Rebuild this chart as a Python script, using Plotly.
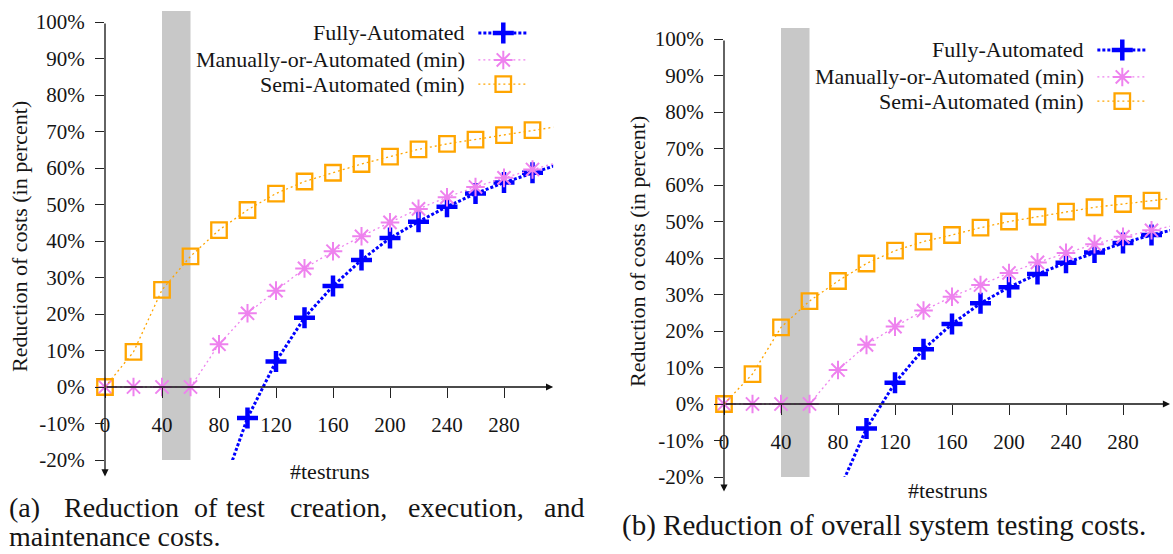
import plotly.graph_objects as go

# ---------------- data ----------------
testruns = [0, 20, 40, 60, 80, 100, 120, 140, 160, 180, 200, 220, 240, 260, 280, 300, 320]

# (a) reduction of test creation, execution and maintenance costs (percent)
fully_a = [None, None, None, None, -30.4, -8.5, 7.0, 19.0, 27.7, 34.8, 40.8, 45.3, 49.4, 53.0, 56.0, 58.7, 61.2]
manual_a = [0, 0, 0, 0, 11.7, 20.2, 26.4, 32.5, 37.2, 41.3, 45.1, 48.8, 52.0, 54.8, 57.3, 59.6, 61.8]
semi_a = [0, 9.6, 26.6, 35.8, 43.0, 48.5, 53.0, 56.3, 58.7, 61.1, 63.1, 65.1, 66.6, 67.8, 69.0, 70.4, 71.5]

# (b) reduction of overall system testing costs (percent)
fully_b = [None, None, None, None, -24.4, -6.7, 5.8, 15.0, 21.9, 27.6, 32.0, 35.6, 38.7, 41.5, 44.1, 46.3, 48.2]
manual_b = [0, 0, 0, 0, 9.3, 16.2, 21.2, 25.6, 29.4, 32.6, 35.9, 38.8, 41.4, 43.8, 45.8, 47.6, 49.3]
semi_b = [0, 8.2, 21.0, 28.2, 33.7, 38.5, 42.0, 44.5, 46.3, 48.3, 50.0, 51.3, 52.7, 53.9, 54.8, 55.7, 56.6]

series_names = ["Fully-Automated", "Manually-or-Automated (min)", "Semi-Automated (min)"]
x_tick_values = [0, 40, 80, 120, 160, 200, 240, 280]
x_tick_labels = ["0", "40", "80", "120", "160", "200", "240", "280"]
y_tick_values = [-20, -10, 0, 10, 20, 30, 40, 50, 60, 70, 80, 90, 100]
y_tick_labels = ["-20%", "-10%", "0%", "10%", "20%", "30%", "40%", "50%", "60%", "70%", "80%", "90%", "100%"]
band_range = [40, 60]
x_title = "#testruns"
y_title = "Reduction of costs (in percent)"
caption_a_line1 = ["(a)", "Reduction", "of", "test", "creation,", "execution,", "and"]
caption_a_line2 = "maintenance costs."
caption_b = "(b) Reduction of overall system testing costs."

# ---------------- layout constants ----------------
W, H = 1173, 554
FONT = "'Liberation Serif', 'Times New Roman', Times, 'DejaVu Serif', serif"
TXT = "#151515"
PX_X = 1.425   # pixels per test run
PX_Y = 3.65    # pixels per percent
Y_MIN, Y_MAX = -20, 103
LAST_MARKER_X = 300

styles = [
    dict(color="#0000FF", lw=3, dash="3px,2px", symbol="cross-thin", msize=15, mlw=4.5),
    dict(color="#EE82EE", lw=1.3, dash="2px,3px", symbol="asterisk", msize=15.5, mlw=2),
    dict(color="#FFA500", lw=1.3, dash="2px,3px", symbol="square-open", msize=15.5, mlw=2.3),
]

panels = [
    dict(xa="x", ya="y", x0px=105, y0px=387, xmax=314.5, yarrow=-24.5,
         series=[fully_a, manual_a, semi_a],
         ytitle=(20, 237), xtitle=(329, 471)),
    dict(xa="x2", ya="y2", x0px=724, y0px=404, xmax=313, yarrow=-24.0,
         series=[fully_b, manual_b, semi_b],
         ytitle=(637, 252), xtitle=(947, 490)),
]

legend_rows = [97, 89.6, 83]
legend_text_x = 254
legend_key = [262, 297]

fig = go.Figure()
annotations = []
shapes = []
layout_axes = {}

for i, p in enumerate(panels):
    xa, ya = p["xa"], p["ya"]
    suffix = "" if i == 0 else str(i + 1)
    xd = [p["x0px"] / W, (p["x0px"] + p["xmax"] * PX_X) / W]
    ybot = p["y0px"] - Y_MIN * PX_Y
    ytop = p["y0px"] - Y_MAX * PX_Y
    yd = [1 - ybot / H, 1 - ytop / H]
    zero_pos = 1 - p["y0px"] / H

    layout_axes["xaxis" + suffix] = dict(
        domain=xd, range=[0, p["xmax"]], anchor="free", position=zero_pos,
        tickvals=x_tick_values, ticktext=x_tick_labels, ticks="outside",
        ticklen=10, tickwidth=1.2, tickcolor="#222", showline=False,
        showgrid=False, zeroline=False, ticklabelstandoff=9, automargin=False,
        tickfont=dict(family=FONT, size=21, color=TXT),
    )
    layout_axes["yaxis" + suffix] = dict(
        domain=yd, range=[Y_MIN, Y_MAX], anchor=xa,
        tickvals=y_tick_values, ticktext=y_tick_labels, ticks="outside",
        ticklen=9, tickwidth=1.2, tickcolor="#222", showline=False,
        showgrid=False, zeroline=False, ticklabelstandoff=6, automargin=False,
        tickfont=dict(family=FONT, size=21, color=TXT),
    )

    shapes.append(dict(type="rect", xref=xa, yref=ya, x0=band_range[0], x1=band_range[1],
                       y0=Y_MIN, y1=Y_MAX, fillcolor="#c8c8c8", line=dict(width=0), layer="below"))

    for s, vals, name, row in zip(styles, p["series"], series_names, legend_rows):
        fig.add_trace(go.Scatter(
            x=testruns, y=vals, mode="lines", xaxis=xa, yaxis=ya, showlegend=False,
            line=dict(color=s["color"], width=s["lw"], dash=s["dash"]), hoverinfo="skip",
        ))
        mx = [x for x, v in zip(testruns, vals) if v is not None and v >= Y_MIN and x <= LAST_MARKER_X]
        my = [v for x, v in zip(testruns, vals) if v is not None and v >= Y_MIN and x <= LAST_MARKER_X]
        fig.add_trace(go.Scatter(
            x=mx, y=my, mode="markers", xaxis=xa, yaxis=ya, showlegend=False, cliponaxis=False,
            marker=dict(symbol=s["symbol"], size=s["msize"], color=s["color"],
                        line=dict(color=s["color"], width=s["mlw"])),
            name=name,
        ))
        fig.add_trace(go.Scatter(
            x=legend_key, y=[row, row], mode="lines", xaxis=xa, yaxis=ya, showlegend=False,
            line=dict(color=s["color"], width=s["lw"], dash=s["dash"]), hoverinfo="skip",
        ))
        fig.add_trace(go.Scatter(
            x=[sum(legend_key) / 2], y=[row], mode="markers", xaxis=xa, yaxis=ya, showlegend=False,
            marker=dict(symbol=s["symbol"], size=s["msize"], color=s["color"],
                        line=dict(color=s["color"], width=s["mlw"])), hoverinfo="skip",
        ))
        annotations.append(dict(xref=xa, yref=ya, x=legend_text_x, y=row, text=name,
                                showarrow=False, xanchor="right", yanchor="middle",
                                font=dict(family=FONT, size=22, color=TXT)))

    annotations.append(dict(xref=xa, yref=ya, x=0, y=p["yarrow"], ax=0, ay=100,
                            axref=xa, ayref=ya, text="", showarrow=True, arrowhead=2,
                            arrowsize=1.1, arrowwidth=1.3, arrowcolor="#111", standoff=0))
    annotations.append(dict(xref=xa, yref=ya, x=p["xmax"], y=0, ax=0, ay=0,
                            axref=xa, ayref=ya, text="", showarrow=True, arrowhead=2,
                            arrowsize=1.1, arrowwidth=1.3, arrowcolor="#111", standoff=0))
    annotations.append(dict(xref="paper", yref="paper", x=p["ytitle"][0] / W, y=1 - p["ytitle"][1] / H,
                            text=y_title, textangle=-90, showarrow=False,
                            xanchor="center", yanchor="middle",
                            font=dict(family=FONT, size=22, color=TXT)))
    annotations.append(dict(xref="paper", yref="paper", x=p["xtitle"][0] / W, y=1 - p["xtitle"][1] / H,
                            text=x_title, showarrow=False, xanchor="center", yanchor="middle",
                            font=dict(family=FONT, size=22, color=TXT)))

cap_font = dict(family=FONT, size=28, color=TXT)
word_px = [7, 62, 192, 224, 288, 406, 542]
for word, xp in zip(caption_a_line1, word_px):
    annotations.append(dict(xref="paper", yref="paper", x=xp / W, y=1 - 507 / H, text=word,
                            showarrow=False, xanchor="left", yanchor="middle", font=cap_font))
annotations.append(dict(xref="paper", yref="paper", x=7 / W, y=1 - 536 / H, text=caption_a_line2,
                        showarrow=False, xanchor="left", yanchor="middle", font=cap_font))
annotations.append(dict(xref="paper", yref="paper", x=620 / W, y=1 - 525 / H, text=caption_b,
                        showarrow=False, xanchor="left", yanchor="middle",
                        font=dict(family=FONT, size=29, color=TXT)))

fig.update_layout(
    width=W, height=H, margin=dict(l=0, r=0, t=0, b=0, pad=0, autoexpand=False),
    paper_bgcolor="white", plot_bgcolor="white",
    showlegend=False, annotations=annotations, shapes=shapes,
    font=dict(family=FONT, color=TXT),
    **layout_axes,
)

fig.write_html("out.html")
